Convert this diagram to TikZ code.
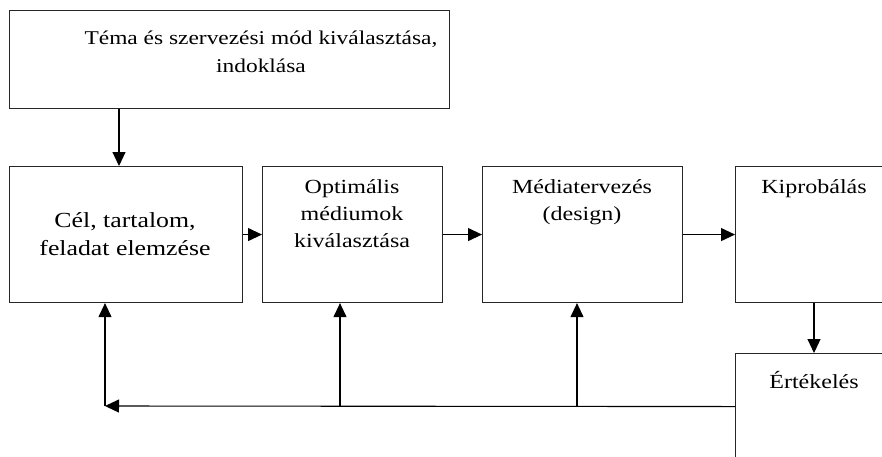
\documentclass[tikz,border=0pt]{standalone}
\usepackage{fontspec}
\setmainfont[FakeStretch=1.2]{Liberation Serif}
\usetikzlibrary{arrows.meta}
\newcommand{\fls}{\rule{0pt}{20pt}}
\begin{document}
\begin{tikzpicture}[x=1pt,y=-1pt,
  box/.style={draw=black!85,line width=1.1pt,rectangle,inner sep=0pt,anchor=north west},
  lbl/.style={align=center,font=\fontsize{20}{27}\selectfont,inner sep=0pt,anchor=north},
  arr/.style={draw=black,line width=1.1pt,-{Triangle[length=14pt,width=13pt]}}]
\clip (0,0) rectangle (882,456);
\fill[white] (0,0) rectangle (882,456);
% boxes
\node[box,minimum width=440pt,minimum height=98pt] (top) at (9,10) {};
\node[box,minimum width=233pt,minimum height=136pt] (cel) at (9,166) {};
\node[box,minimum width=180pt,minimum height=136pt] (opt) at (262,166) {};
\node[box,minimum width=200pt,minimum height=136pt] (med) at (482,166) {};
\node[box,minimum width=158pt,minimum height=136pt] (kip) at (735,166) {};
\node[box,minimum width=158pt,minimum height=106pt] (ert) at (735,353) {};
% texts
\node[lbl,font=\fontsize{19.5}{28}\selectfont] (ttop) at (261,24) {\fls Téma és szervezési mód kiválasztása,\\indoklása};
\node[lbl,font=\fontsize{21.5}{28}\selectfont] (tcel) at (125,207) {\fls Cél, tartalom,\\feladat elemzése};
\node[lbl] (topt) at (352,173) {\fls Optimális\\médiumok\\kiválasztása};
\node[lbl] (tmed) at (582,173) {\fls Médiatervezés\\(design)};
\node[lbl] (tkip) at (814,173) {\fls Kiprobálás};
\node[lbl] (tert) at (814,368) {\fls Értékelés};
% connectors
\coordinate (t1) at (119,0);
\draw[arr] (top.south -| t1) -- (cel.north -| t1);
\draw[arr] (cel.east) -- (opt.west);
\draw[arr] (opt.east) -- (med.west);
\draw[arr] (med.east) -- (kip.west);
\coordinate (t2) at (814,0);
\draw[arr] (kip.south -| t2) -- (ert.north -| t2);
\coordinate (fbL) at (105,406);
\coordinate (j1) at (340,406);
\coordinate (j2) at (577,406);
\draw[arr] (ert.west) -- (fbL);
\draw[arr] (fbL) -- (cel.south -| fbL);
\draw[arr] (j1) -- (opt.south -| j1);
\draw[arr] (j2) -- (med.south -| j2);
\end{tikzpicture}
\end{document}
